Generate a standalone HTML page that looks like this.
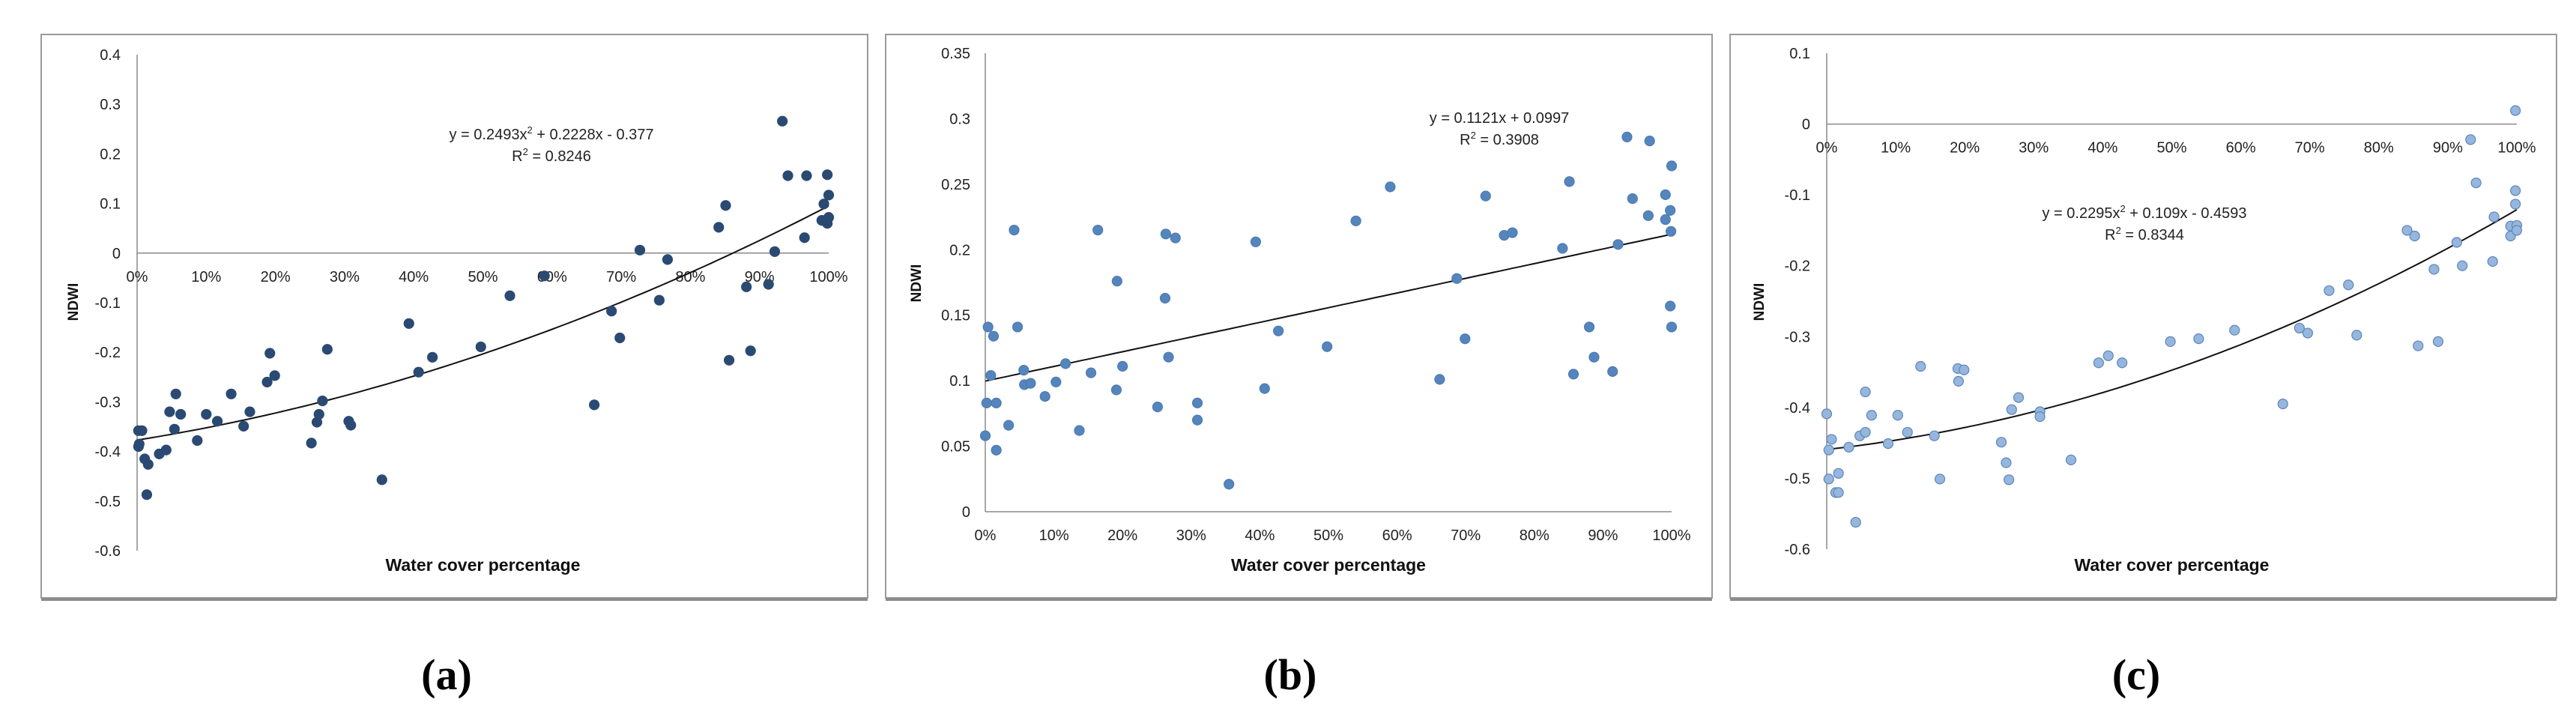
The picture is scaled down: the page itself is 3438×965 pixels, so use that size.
<!DOCTYPE html>
<html><head><meta charset="utf-8">
<style>
html,body{margin:0;padding:0;background:#fff;}
svg{display:block;font-family:"Liberation Sans",sans-serif;}
</style></head>
<body>
<svg id="chart" width="3438" height="965" viewBox="0 0 3438 965" xmlns="http://www.w3.org/2000/svg"></svg>
<script>
const aX=[0.2,0.7,0.2,0.3,1.1,1.6,1.4,3.2,4.2,4.7,5.6,5.4,6.3,8.7,10,11.6,13.6,15.4,16.3,18.8,19.2,19.9,25.2,26,26.3,26.8,27.5,30.6,30.9,35.4,39.3,40.7,42.7,49.7,53.9,58.9,66.1,68.6,69.8,72.7,75.5,76.7,84.1,85.1,85.6,88.1,88.7,91.3,92.2,93.3,94.1,96.5,96.8,99,99.3,99.8,100,99.8,100];
const aY=[-0.358,-0.358,-0.39,-0.385,-0.415,-0.426,-0.487,-0.405,-0.397,-0.32,-0.284,-0.355,-0.325,-0.378,-0.325,-0.339,-0.284,-0.349,-0.32,-0.26,-0.202,-0.247,-0.383,-0.341,-0.325,-0.298,-0.194,-0.339,-0.347,-0.457,-0.142,-0.24,-0.21,-0.189,-0.086,-0.046,-0.306,-0.117,-0.171,0.006,-0.095,-0.013,0.052,0.096,-0.216,-0.068,-0.197,-0.063,0.003,0.266,0.156,0.031,0.156,0.066,0.099,0.158,0.117,0.06,0.072];
const bX=[0,0.2,0.4,0.8,1.2,1.6,1.6,3.4,4.2,4.7,5.6,5.7,6.6,8.7,10.3,11.7,13.7,15.4,16.4,19.1,19.2,20,25.1,26.2,26.3,26.7,27.7,30.9,30.9,35.5,39.4,40.7,42.7,49.8,54,59,66.2,68.7,69.9,72.9,75.6,76.8,84.1,85.1,85.7,88,88.7,91.4,92.2,93.5,94.3,96.6,96.8,99.1,99.1,99.8,99.9,100,99.8,100];
const bY=[0.058,0.083,0.141,0.104,0.134,0.083,0.047,0.066,0.215,0.141,0.108,0.097,0.098,0.088,0.099,0.113,0.062,0.106,0.215,0.093,0.176,0.111,0.08,0.163,0.212,0.118,0.209,0.083,0.07,0.021,0.206,0.094,0.138,0.126,0.222,0.248,0.101,0.178,0.132,0.241,0.211,0.213,0.201,0.252,0.105,0.141,0.118,0.107,0.204,0.286,0.239,0.226,0.283,0.242,0.223,0.23,0.214,0.264,0.157,0.141];
const cX=[0,0.3,0.3,0.7,1.3,1.7,1.7,3.2,4.2,4.8,5.6,5.6,6.5,8.9,10.3,11.7,13.6,15.6,16.4,19,19.1,19.9,25.3,26,26.4,26.8,27.8,30.9,30.9,35.4,39.4,40.8,42.8,49.8,53.9,59.1,66.1,68.5,69.7,72.8,75.6,76.8,84.1,85.2,85.7,88,88.6,91.3,92.1,93.3,94.1,96.5,96.7,99.1,99.1,99.8,99.8,99.8,100,100];
const cY=[-0.409,-0.46,-0.501,-0.445,-0.52,-0.52,-0.493,-0.456,-0.562,-0.44,-0.378,-0.435,-0.411,-0.451,-0.411,-0.435,-0.342,-0.44,-0.501,-0.345,-0.363,-0.347,-0.449,-0.478,-0.502,-0.403,-0.386,-0.406,-0.413,-0.474,-0.337,-0.327,-0.337,-0.307,-0.303,-0.291,-0.395,-0.288,-0.295,-0.235,-0.227,-0.298,-0.15,-0.158,-0.313,-0.205,-0.307,-0.167,-0.2,-0.022,-0.083,-0.194,-0.131,-0.144,-0.158,0.019,-0.094,-0.113,-0.143,-0.15];
const aCoef=[0.2493,0.2228,-0.377];
const bCoef=[0,0.1121,0.0997];
const cCoef=[0.2295,0.109,-0.4593];
const xTicks=[0,10,20,30,40,50,60,70,80,90,100];
const aYTicks=[0.4,0.3,0.2,0.1,0,-0.1,-0.2,-0.3,-0.4,-0.5,-0.6];
const bYTicks=[0.35,0.3,0.25,0.2,0.15,0.1,0.05,0];
const cYTicks=[0.1,0,-0.1,-0.2,-0.3,-0.4,-0.5,-0.6];

const NS="http://www.w3.org/2000/svg";
const svg=document.getElementById('chart');
function mk(tag,attrs,parent,text){const e=document.createElementNS(NS,tag);for(const k in attrs)e.setAttribute(k,attrs[k]);if(text!==undefined)e.textContent=text;(parent||svg).appendChild(e);return e;}

const panels=[
 {id:'a',frame:[55,46,1158,798],px0:183,px1:1106,ymax:0.4,ymin:-0.6,py0:73,py1:735,ticks:aYTicks,xs:aX,ys:aY,coef:aCoef,dot:'#2b4a73',stroke:'#2b4a73',
  eq:['y = 0.2493x','2',' + 0.2228x - 0.377'],r2:'0.8246',eqx:736,eqy:186,ylx:161,ndwi:[104,403],label:'(a)',labx:596},
 {id:'b',frame:[1182,46,2285,798],px0:1315,px1:2231,ymax:0.35,ymin:0,py0:71,py1:683,ticks:bYTicks,xs:bX,ys:bY,coef:bCoef,dot:'#5585bd',stroke:'#4d7bb0',
  eq:['y = 0.1121x + 0.0997'],r2:'0.3908',eqx:2001,eqy:164,ylx:1295,ndwi:[1229,378],label:'(b)',labx:1722},
 {id:'c',frame:[2309,46,3412,798],px0:2438,px1:3359,ymax:0.1,ymin:-0.6,py0:71,py1:733,ticks:cYTicks,xs:cX,ys:cY,coef:cCoef,dot:'#95b6de',stroke:'#5f86b8',
  eq:['y = 0.2295x','2',' + 0.109x - 0.4593'],r2:'0.8344',eqx:2862,eqy:291,ylx:2416,ndwi:[2354,403],label:'(c)',labx:2851}
];

panels.forEach(p=>{
 const g=mk('g',{});
 
 
 const [fx0,fy0,fx1,fy1]=p.frame;
 const fr=mk('rect',{x:fx0,y:fy0,width:fx1-fx0,height:fy1-fy0,fill:'#fff',stroke:'#9a9a9a','stroke-width':2},g);
 
 
 mk('line',{x1:fx0,y1:fy1+2,x2:fx1,y2:fy1+2,stroke:'#8c8c8c','stroke-width':4},g);
 const X=v=>p.px0+(p.px1-p.px0)*v/100;
 const Y=v=>p.py0+(p.py1-p.py0)*(p.ymax-v)/(p.ymax-p.ymin);
 // axes
 const ya=mk('line',{x1:p.px0,y1:p.py0,x2:p.px0,y2:p.py1,stroke:'#8a8a8a','stroke-width':1.5},g);
 
 
 const xa=mk('line',{x1:p.px0,y1:Y(0),x2:p.px1,y2:Y(0),stroke:'#8a8a8a','stroke-width':1.5},g);
 
 
 p.ticks.forEach(t=>{
  const tl=mk('text',{x:p.ylx,y:Y(t)+7,'text-anchor':'end','font-size':20,fill:'#222'},g,String(t));
  
  
 });
 xTicks.forEach(t=>{
  const tl=mk('text',{x:X(t),y:Y(0)+38,'text-anchor':'middle','font-size':20,fill:'#222'},g,t+'%');
  
  
 });
 // trendline
 let d='';
 for(let i=0;i<=100;i++){const x=i/100;const v=p.coef[0]*x*x+p.coef[1]*x+p.coef[2];d+=(i?'L':'M')+X(i).toFixed(1)+','+Y(v).toFixed(1);}
 const tr=mk('path',{d:d,fill:'none',stroke:'#111','stroke-width':2},g);
 
 
 // points
 p.xs.forEach((xv,i)=>{
  const c=mk('circle',{cx:X(xv),cy:Y(p.ys[i]),r:6.5,fill:p.dot,stroke:p.stroke,'stroke-width':1.2},g);
  
  
 });
 // equation
 const eq=mk('text',{x:p.eqx,y:p.eqy,'text-anchor':'middle','font-size':20,fill:'#222'},g);
 
 
 if(p.eq.length===1){eq.textContent=p.eq[0];}
 else{mk('tspan',{},eq,p.eq[0]);mk('tspan',{'font-size':13,dy:-8},eq,p.eq[1]);mk('tspan',{dy:8},eq,p.eq[2]);}
 const r2=mk('text',{x:p.eqx,y:p.eqy+29,'text-anchor':'middle','font-size':20,fill:'#222'},g);
 
 
 mk('tspan',{},r2,'R');mk('tspan',{'font-size':13,dy:-8},r2,'2');mk('tspan',{dy:8},r2,' = '+p.r2);
 // axis titles
 const xt=mk('text',{x:(p.px0+p.px1)/2,y:762,'text-anchor':'middle','font-size':23,'font-weight':'bold',fill:'#111'},g,'Water cover percentage');
 
 
 const yt=mk('text',{x:p.ndwi[0],y:p.ndwi[1],'text-anchor':'middle','font-size':19,'font-weight':'bold',fill:'#111',transform:'rotate(-90 '+p.ndwi[0]+' '+p.ndwi[1]+')'},g,'NDWI');
 
 
 const lb=mk('text',{x:p.labx,y:920,'text-anchor':'middle','font-size':58,'font-weight':'bold','font-family':'"Liberation Serif",serif',fill:'#000'},g,p.label);
 
 
});
</script>
</body></html>
